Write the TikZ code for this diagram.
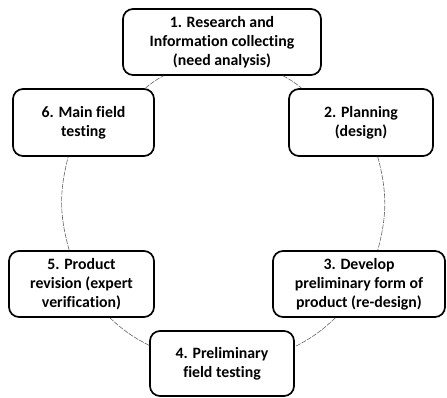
\documentclass[tikz,border=0pt]{standalone}
\usepackage{fontspec}
\setmainfont[Ligatures=NoCommon]{Carlito}
\usepackage{tikz}

\begin{document}
\begin{tikzpicture}[x=1pt, y=-1pt,
  stage/.style={draw, line width=1.7pt, rounded corners=10pt, align=center,
                inner sep=0pt, font=\bfseries\fontsize{15.8}{19}\selectfont},
  link/.style={gray!80!black, line width=0.6pt, dash pattern=on 5pt off 1.2pt}]
\useasboundingbox (0, 0) rectangle (447, 398);

% the six stages, clockwise from the top
\node[stage, minimum width=198pt, minimum height=66pt] (s1) at (222, 42)
  {1. Research and\\ Information collecting\\ (need analysis)};
\node[stage, minimum width=144pt, minimum height=67pt] (s2) at (361, 122.5)
  {2. Planning\\ (design)};
\node[stage, minimum width=172pt, minimum height=66pt] (s3) at (359, 284)
  {3. Develop\\ preliminary form of\\ product (re-design)};
\node[stage, minimum width=144pt, minimum height=65pt] (s4) at (222, 363.5)
  {4. Preliminary\\ field testing};
\node[stage, minimum width=145pt, minimum height=66pt] (s5) at (81.5, 284)
  {5. Product\\ revision (expert\\ verification)};
\node[stage, minimum width=141pt, minimum height=67pt] (s6) at (83.5, 122.5)
  {6. Main field\\ testing};

% arcs of the cycle
\draw[link] (s1.-29) to[bend left=6] (s2.150);
\draw[link] (s2.-64) to[bend left=15] (s3.61);
\draw[link] (s3.235) to[bend left=8] (s4.13);
\draw[link] (s4.166) to[bend left=8] (s5.-50);
\draw[link] (s5.110) to[bend left=15] (s6.246);
\draw[link] (s6.29) to[bend left=6] (s1.210);
\end{tikzpicture}
\end{document}
